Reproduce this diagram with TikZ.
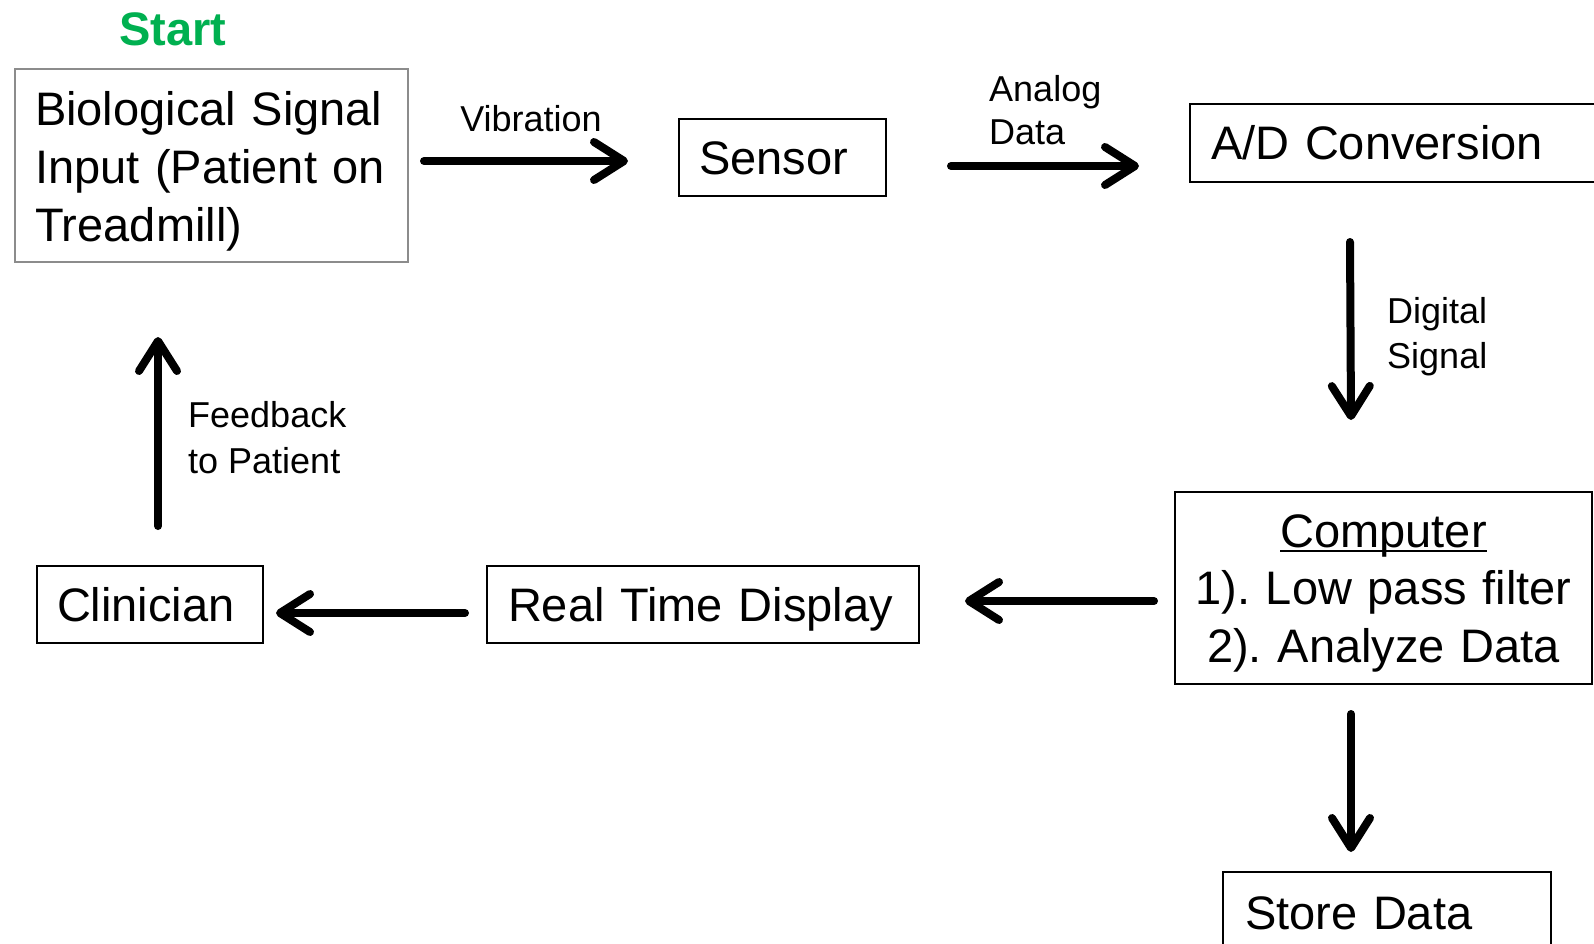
\documentclass[tikz,border=0pt]{standalone}
\usepackage{fontspec}
\setmainfont{Liberation Sans}
\usetikzlibrary{arrows.meta,calc}
\definecolor{startgreen}{RGB}{0,176,80}
\definecolor{boxgray}{RGB}{140,140,140}
\newcommand\thkul[1]{\setbox0=\hbox{#1}\rlap{\rule[-5pt]{\wd0}{2.5pt}}\box0}
\frenchspacing
\begin{document}
\frenchspacing
\begin{tikzpicture}[x=1pt,y=-1pt,
  mbox/.style={draw=black, line width=2pt, rectangle, inner ysep=0pt, anchor=north west,
    font=\fontsize{47pt}{58pt}\selectfont},
  sbox/.style={mbox, align=left, text height=34pt, text depth=0pt},
  arr/.style={line width=8pt, line cap=round, -{Straight Barb[length=30pt,width=38pt,round]}},
  lbl/.style={font=\fontsize{36pt}{45pt}\selectfont, align=left, anchor=base west, inner sep=0pt}]
\clip (0,0) rectangle (1594,944);
\fill[white] (0,0) rectangle (1594,944);

% title
\node[font=\bfseries\fontsize{47pt}{56pt}\selectfont, text=startgreen, anchor=base, inner sep=0pt] (start) at (173,46) {Start};

% boxes
\node[mbox, draw=boxgray, align=left, minimum width=393pt, minimum height=193pt, inner xsep=20pt, text width=353pt] (bio) at (14,68)
  {\rule{0pt}{45pt}Biological Signal\\Input (Patient on\\Treadmill)};
\node[sbox, minimum width=207pt, minimum height=77pt, inner xsep=20pt, text width=167pt] (sensor) at (678,118) {Sensor};
\node[sbox, minimum width=431pt, minimum height=78pt, inner xsep=21pt, text width=389pt] (ad) at (1189,103) {A/D Conversion};
\node[mbox, align=center, font=\fontsize{47pt}{57.5pt}\selectfont, minimum width=417pt, minimum height=192pt, inner xsep=10pt, text width=397pt] (comp) at (1174,491)
  {\rule{0pt}{43pt}\thkul{Computer}\\1). Low pass filter\\2). Analyze Data};
\node[sbox, minimum width=432pt, minimum height=77pt, inner xsep=21pt, text width=390pt] (rtd) at (486,565) {Real Time Display};
\node[sbox, minimum width=226pt, minimum height=77pt, inner xsep=20pt, text width=186pt] (clin) at (36,565) {Clinician};
\node[sbox, minimum width=328pt, minimum height=80pt, inner xsep=22pt, text width=284pt] (store) at (1222,871) {Store Data};

% connectors
\draw[arr] ($(bio.east)+(15,-4.5)$) -- ($(sensor.west)+(-50,3.5)$);
\draw[arr] ($(sensor.east)+(64,8.5)$) -- ($(ad.west)+(-50,23)$);
\draw[arr] ($(ad.south west)+(161,59)$) -- ($(comp.north)+(-32.5,-71)$);
\draw[arr] ($(comp.west)+(-20,13)$) -- ($(rtd.east)+(45,-3.5)$);
\draw[arr] ($(rtd.west)+(-21,8.5)$) -- ($(clin.east)+(12,8.5)$);
\draw[arr] ($(clin.north)+(8,-39)$) -- ($(bio.south)+(-53.5,74)$);
\draw[arr] ($(comp.south)+(-32.5,29)$) -- ($(store.north)+(-36,-19)$);

% connector labels (anchored at the baseline of the last line)
\node[lbl, anchor=base] (lvib) at (531,132) {Vibration};
\node[lbl, font=\fontsize{36pt}{43pt}\selectfont] (lanalog) at (989,145) {Analog\\Data};
\node[lbl] (ldig) at (1387,368) {Digital\\Signal};
\node[lbl, font=\fontsize{36pt}{46pt}\selectfont] (lfeed) at (188,473) {Feedback\\to Patient};
\end{tikzpicture}
\end{document}
